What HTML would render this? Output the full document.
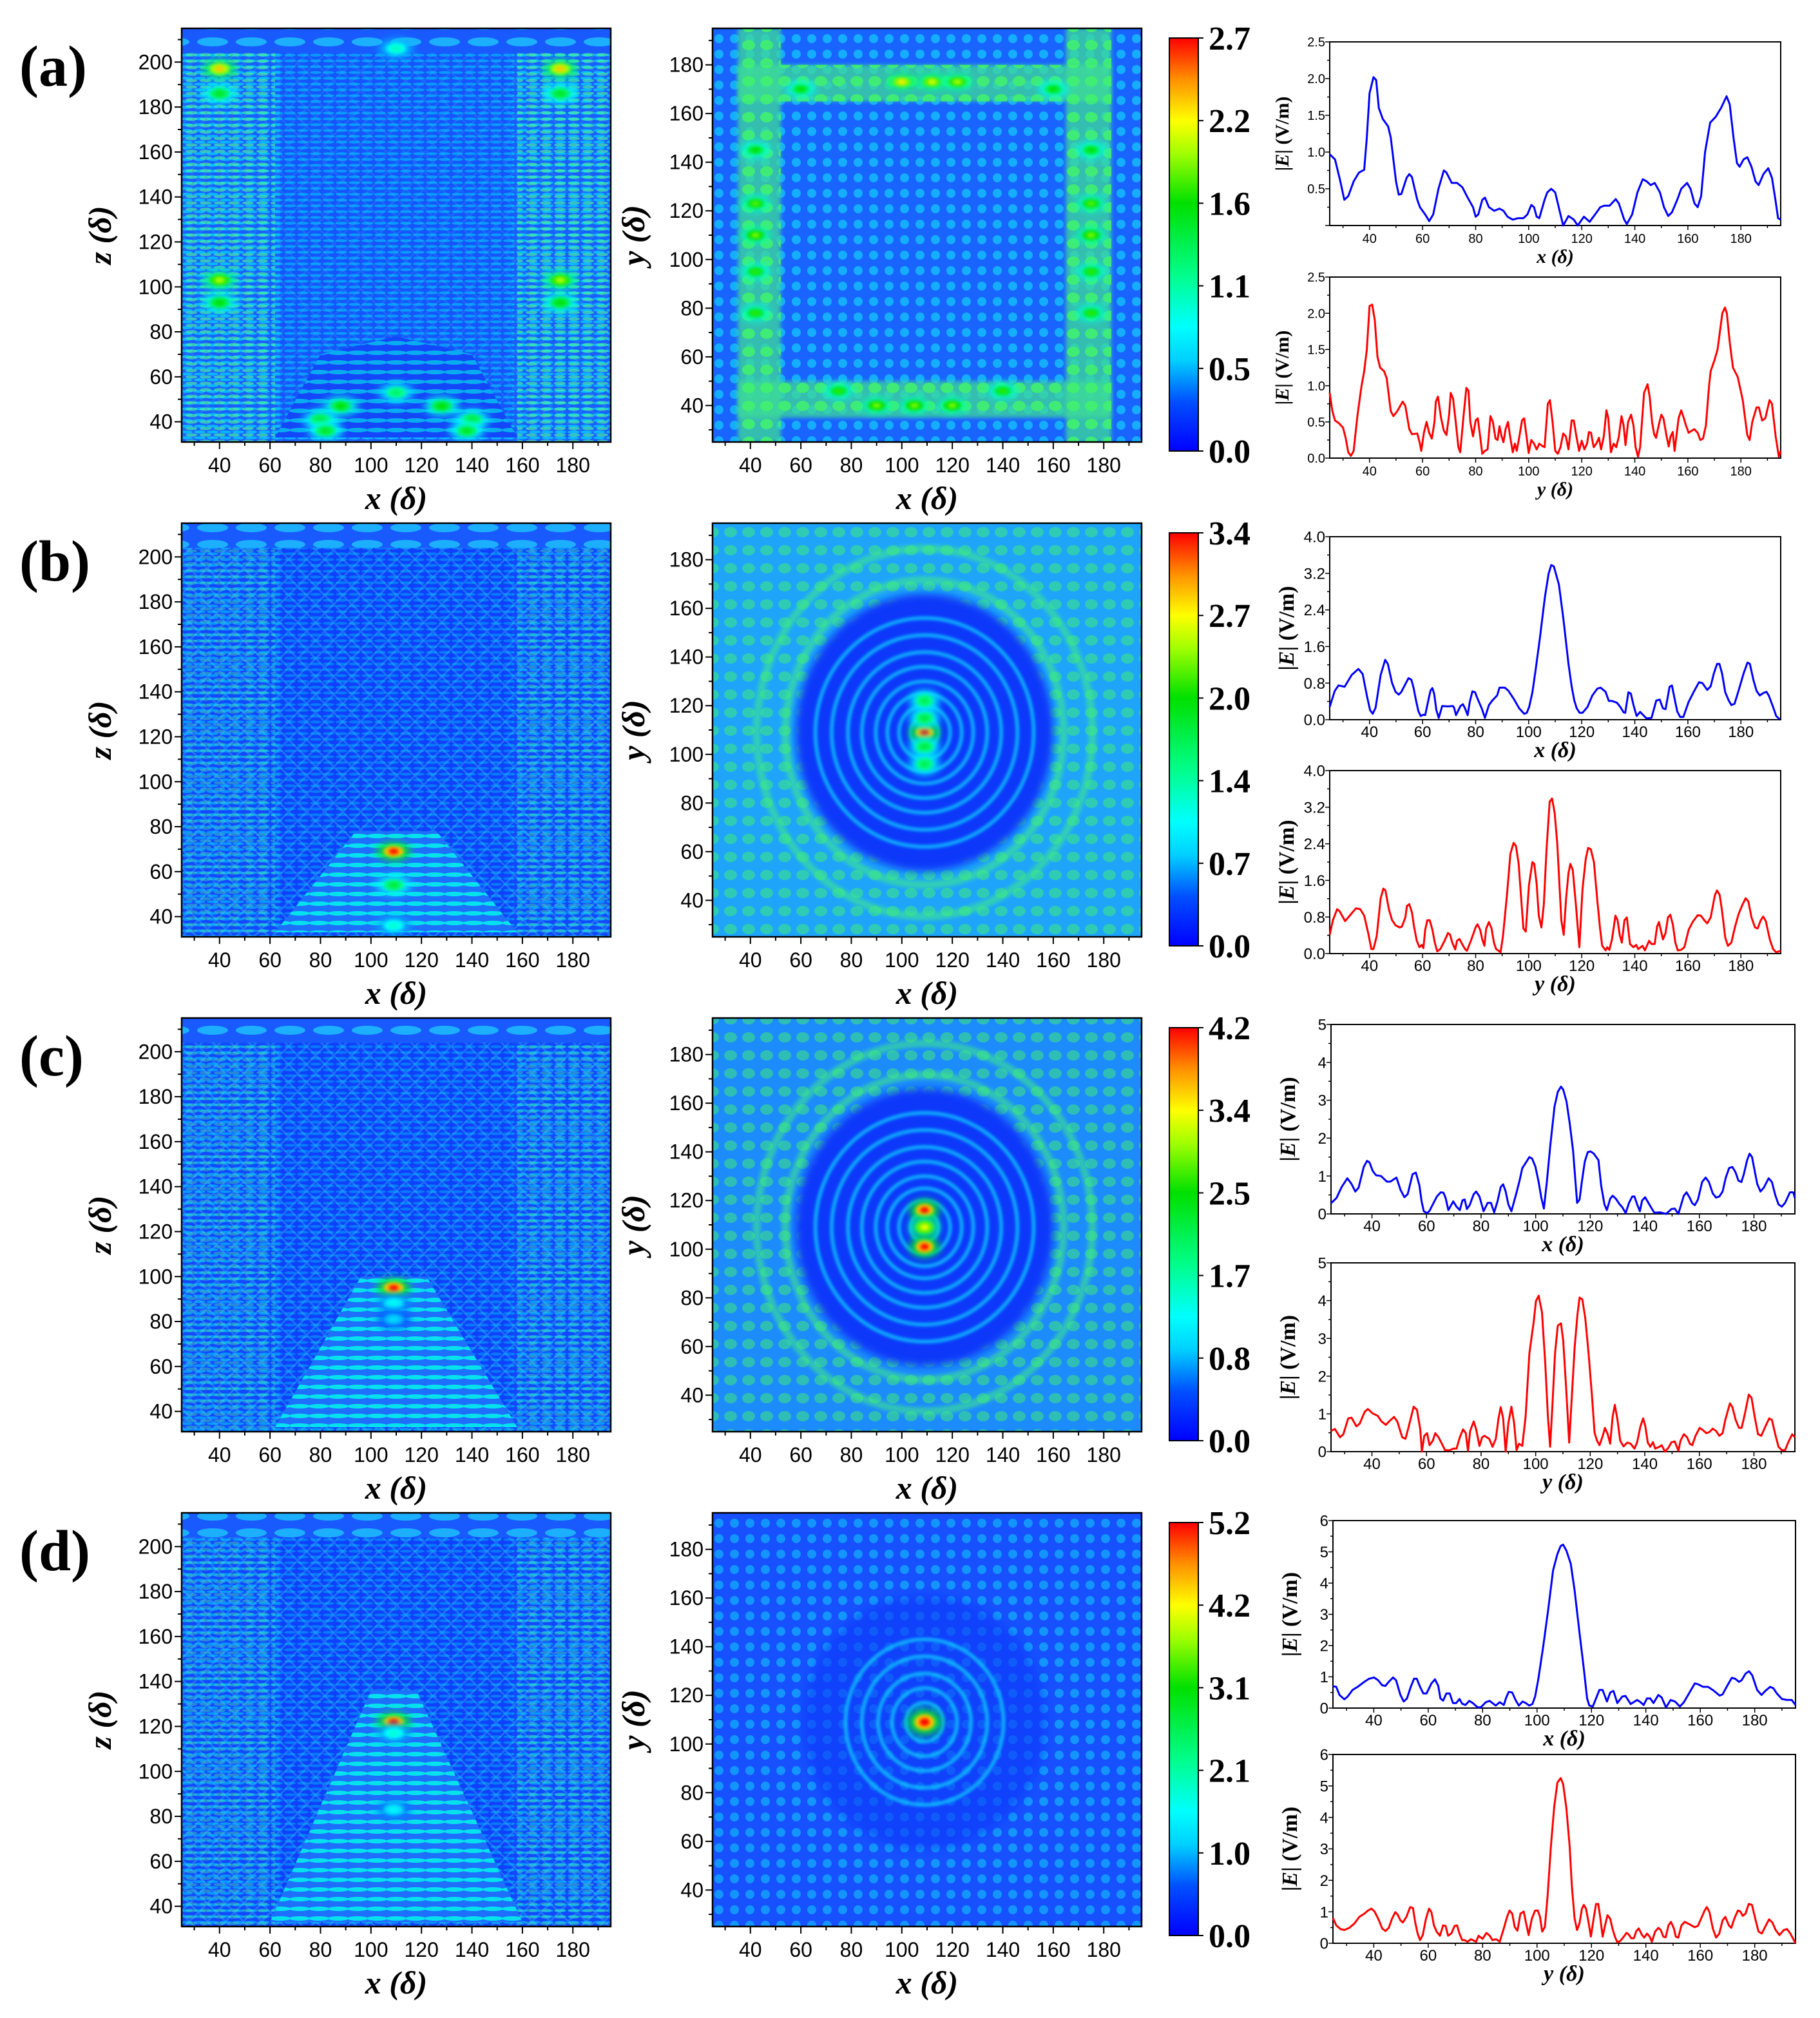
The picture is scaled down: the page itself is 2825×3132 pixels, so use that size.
<!DOCTYPE html>
<html><head><meta charset="utf-8">
<style>
html,body{margin:0;padding:0;background:#fff;}
svg{display:block;}
</style></head>
<body>
<svg id="fig" xmlns="http://www.w3.org/2000/svg" width="2825" height="3132" viewBox="0 0 2825 3132">
<defs>
<pattern id="stH" width="20" height="9" patternUnits="userSpaceOnUse"><ellipse cx="10" cy="4.5" rx="9" ry="2.3" fill="#00f0ff"/></pattern>
<pattern id="stG" width="22" height="10" patternUnits="userSpaceOnUse"><ellipse cx="11" cy="5" rx="9" ry="2.6" fill="#50ff90"/></pattern>
<pattern id="stC" width="30" height="15" patternUnits="userSpaceOnUse"><ellipse cx="15" cy="7.5" rx="16" ry="3.5" fill="#00ffe8"/></pattern>
<pattern id="stT" width="60" height="26" patternUnits="userSpaceOnUse"><ellipse cx="30" cy="13" rx="24" ry="7" fill="#20e8ff"/></pattern>
<pattern id="hatch" width="28" height="28" patternUnits="userSpaceOnUse"><path d="M0,0 L28,28 M28,0 L0,28" stroke="#30d8ff" stroke-width="3" fill="none"/></pattern>
<pattern id="dotC" width="24" height="24" patternUnits="userSpaceOnUse"><circle cx="12" cy="12" r="7" fill="#10e8ff"/></pattern>
<pattern id="dotG" width="28" height="28" patternUnits="userSpaceOnUse"><ellipse cx="14" cy="14" rx="10" ry="8" fill="#40f070"/></pattern>
<filter id="blur2" x="-20%" y="-20%" width="140%" height="140%"><feGaussianBlur stdDeviation="2"/></filter>
<filter id="blur3" x="-50%" y="-50%" width="200%" height="200%"><feGaussianBlur stdDeviation="3"/></filter>
<filter id="blur6" x="-50%" y="-50%" width="200%" height="200%"><feGaussianBlur stdDeviation="6"/></filter>
<linearGradient id="cbar" x1="0" y1="1" x2="0" y2="0">
<stop offset="0" stop-color="#0000ff"/><stop offset="0.12" stop-color="#0050ff"/><stop offset="0.22" stop-color="#00d0ff"/><stop offset="0.3" stop-color="#00ffff"/><stop offset="0.42" stop-color="#00ff90"/><stop offset="0.6" stop-color="#00e000"/><stop offset="0.72" stop-color="#a0ff00"/><stop offset="0.8" stop-color="#ffff00"/><stop offset="0.9" stop-color="#ff9000"/><stop offset="1" stop-color="#ff0000"/>
</linearGradient>
</defs>
</svg>
<script>
// ---------- line-chart data ([x, |E|]) ----------
const lineA_x = [[25,0.97],[27,0.9],[29,0.6],[30.5,0.35],[32,0.4],[34,0.6],[36,0.72],[38,0.76],[39,1.2],[40,1.8],[41.5,2.02],[42.5,1.98],[43.5,1.6],[45,1.45],[47,1.35],[48,1.2],[50,0.6],[51,0.42],[52,0.43],[54,0.65],[55,0.7],[56,0.66],[58,0.35],[59,0.25],[61,0.15],[62.5,0.06],[64,0.15],[66,0.5],[68,0.75],[69,0.72],[71,0.58],[73,0.58],[75,0.52],[77,0.38],[79,0.25],[80,0.12],[81,0.15],[82.5,0.35],[83.5,0.38],[85,0.25],[87,0.2],[89,0.23],[90.5,0.2],[92,0.12],[94,0.08],[96,0.1],[98,0.1],[99.5,0.15],[101,0.28],[102,0.25],[103,0.12],[104,0.1],[106,0.35],[107,0.45],[108.5,0.5],[110,0.45],[112,0.15],[113,0.0],[115,0.13],[117,0.08],[118.5,0.0],[120.8,0.12],[123,0.05],[125,0.15],[127,0.25],[128.5,0.27],[130.5,0.27],[132.8,0.36],[134,0.3],[136,0.08],[137,0.02],[139,0.15],[141,0.45],[143,0.63],[144.5,0.6],[146,0.55],[147.5,0.58],[149.5,0.45],[151,0.25],[152.6,0.13],[154,0.18],[156,0.35],[157.5,0.5],[159.7,0.58],[161,0.5],[162.5,0.3],[163.7,0.25],[165,0.4],[166.5,1.0],[168.4,1.4],[170.5,1.48],[172.5,1.6],[174.6,1.76],[175.8,1.65],[177.2,1.2],[178.5,0.85],[179.5,0.8],[181,0.9],[182.4,0.93],[184,0.8],[185.5,0.6],[186.7,0.55],[188.5,0.7],[190.3,0.78],[191.7,0.65],[193,0.35],[194,0.1],[195,0.08]];
const lineA_y = [[25,0.9],[26,0.65],[27,0.52],[28.5,0.48],[30,0.42],[31,0.28],[32,0.08],[33,0.03],[34,0.1],[35.5,0.6],[37,1.0],[38,1.2],[39,1.5],[40,2.1],[41,2.12],[42,1.9],[43,1.4],[44,1.25],[45.5,1.2],[46.5,1.1],[48,0.65],[49,0.58],[50.5,0.65],[52.5,0.78],[53.5,0.72],[55,0.4],[56,0.33],[58,0.34],[59,0.2],[59.5,0.1],[60.5,0.35],[61.5,0.5],[62.5,0.35],[63.5,0.27],[64.5,0.5],[65,0.78],[65.8,0.85],[67,0.55],[68,0.38],[69,0.32],[70,0.6],[70.6,0.9],[71.5,0.82],[72.5,0.5],[73.5,0.15],[74.2,0.08],[75.5,0.6],[76.5,0.97],[77.3,0.93],[78,0.5],[79,0.3],[80,0.52],[80.8,0.55],[81.7,0.3],[82.5,0.06],[83.5,0.1],[84.5,0.12],[85.6,0.58],[86.5,0.5],[87.5,0.27],[88.3,0.25],[89,0.44],[89.8,0.3],[90.5,0.22],[91.3,0.4],[92.2,0.5],[93,0.3],[94,0.08],[94.8,0.2],[95.5,0.1],[96.5,0.3],[97.5,0.52],[98.3,0.55],[99.2,0.3],[100,0.07],[101,0.25],[102,0.2],[103,0.12],[104,0.2],[105,0.17],[106,0.15],[107.2,0.75],[108,0.8],[109,0.5],[110,0.1],[111,0.06],[112,0.15],[113,0.34],[114,0.3],[115,0.12],[116.2,0.52],[117,0.52],[118,0.3],[119,0.1],[120,0.24],[121,0.12],[122,0.2],[122.7,0.36],[123.5,0.35],[124.5,0.15],[125.5,0.2],[126.5,0.28],[127.3,0.12],[128.3,0.3],[129.3,0.66],[130,0.55],[131,0.08],[132,0.2],[133,0.15],[134,0.3],[135,0.58],[135.8,0.45],[136.5,0.18],[137.5,0.5],[138.6,0.6],[139.5,0.45],[140.3,0.15],[141.2,0.02],[142,0.15],[143.5,0.9],[144.8,1.02],[145.6,0.85],[146.5,0.5],[147.3,0.33],[148,0.28],[149,0.45],[150,0.6],[150.8,0.55],[152,0.3],[152.8,0.16],[153.5,0.3],[154.3,0.36],[155,0.1],[156.5,0.55],[157.5,0.66],[158.5,0.55],[159.3,0.45],[160.3,0.35],[162.4,0.4],[163.7,0.35],[164.7,0.25],[165.7,0.27],[166.8,0.45],[168,1.0],[168.6,1.2],[170,1.35],[171.2,1.5],[173,2.0],[174,2.08],[174.7,2.0],[175.8,1.6],[177,1.25],[178.8,1.12],[180.7,0.8],[182.4,0.32],[183.3,0.25],[184.3,0.5],[185.9,0.7],[186.8,0.7],[188,0.52],[189.2,0.55],[190.8,0.8],[191.7,0.75],[193.1,0.3],[194.3,0.02],[195,0.1]];
const lineB_x = [[25,0.28],[26.9,0.63],[28.3,0.75],[30.6,0.72],[33.3,0.98],[35.8,1.11],[37.4,1.0],[39,0.53],[40.2,0.21],[41.2,0.13],[42.3,0.26],[44.2,0.98],[45.9,1.31],[46.9,1.22],[48.5,0.8],[49.8,0.61],[51,0.55],[51.9,0.6],[54.7,0.91],[55.8,0.87],[56.6,0.7],[57.4,0.46],[58.4,0.19],[59.3,0.08],[60.3,0.11],[61,0.1],[62.3,0.46],[63,0.64],[63.7,0.69],[64.4,0.56],[65.2,0.21],[66.1,0.04],[67.4,0.3],[69.6,0.29],[71.4,0.3],[71.9,0.26],[72.6,0.1],[74.3,0.3],[75.2,0.34],[76,0.25],[77,0.1],[77.8,0.39],[78.8,0.62],[79.8,0.6],[80.7,0.46],[82.3,0.25],[83.5,0.04],[85,0.32],[86.3,0.42],[88.1,0.53],[89,0.7],[91,0.7],[92.4,0.63],[94.3,0.46],[96.4,0.25],[98.3,0.13],[99.3,0.15],[100.2,0.28],[101.4,0.6],[102.6,1.08],[104.2,1.77],[106.1,2.67],[107.5,3.19],[108.5,3.38],[109.5,3.35],[111.4,2.95],[113.1,2.19],[115,1.22],[116.2,0.73],[117.2,0.42],[118.1,0.25],[119.2,0.15],[120.3,0.15],[122.2,0.28],[124,0.53],[125.9,0.68],[127.1,0.7],[129,0.61],[130.2,0.41],[131.4,0.41],[133.3,0.37],[134.5,0.28],[135.8,0.16],[136.4,0.15],[137.6,0.6],[138.5,0.57],[139.5,0.32],[140.7,0.08],[142,0.17],[143.2,0.1],[144.4,0.03],[146.3,0.04],[148.1,0.42],[149.4,0.44],[150.6,0.25],[151.6,0.23],[153.1,0.72],[154,0.75],[155,0.46],[156,0.18],[157.1,0.06],[158.3,0.06],[160.3,0.39],[162.4,0.63],[164.2,0.82],[165.5,0.8],[167.3,0.65],[168.6,0.73],[169.8,1.01],[171,1.22],[171.9,1.22],[172.9,1.01],[174.1,0.6],[175.4,0.42],[176.4,0.32],[177.6,0.35],[179.1,0.63],[181,1.01],[182.5,1.25],[183.4,1.22],[184.7,0.87],[185.9,0.63],[187.1,0.53],[188.4,0.58],[189.6,0.61],[190.5,0.53],[192.1,0.28],[193.3,0.08],[194.6,0.01]];
const lineB_y = [[25,0.41],[26.2,0.73],[27.8,0.97],[28.7,0.93],[30.8,0.71],[33,0.86],[34.9,0.99],[36.5,0.97],[38,0.83],[39.5,0.45],[40.7,0.1],[41.5,0.1],[42.7,0.38],[44.2,1.21],[45.2,1.42],[46,1.38],[47.3,0.97],[48.5,0.73],[49.8,0.62],[51.4,0.57],[52.2,0.59],[53.5,0.79],[54.1,1.04],[55,1.08],[56,0.9],[56.8,0.59],[57.8,0.28],[58.8,0.14],[59.7,0.19],[60.3,0.12],[61,0.52],[61.8,0.73],[62.7,0.73],[63.7,0.52],[64.6,0.24],[65.5,0.05],[66.7,0.1],[68.3,0.28],[69.6,0.45],[70.4,0.41],[71.2,0.24],[72.3,0.09],[73,0.28],[73.9,0.32],[74.9,0.21],[76,0.1],[76.7,0.06],[78.2,0.28],[80.1,0.59],[80.7,0.64],[81.7,0.52],[82.5,0.31],[83.3,0.17],[84,0.55],[85,0.69],[86,0.55],[86.9,0.24],[87.7,0.1],[89.4,0.03],[90.3,0.38],[91.8,1.28],[93.1,2.18],[94.3,2.42],[95.2,2.35],[96.2,1.97],[98,0.55],[98.9,0.48],[100.1,1.49],[101.4,2.0],[102.1,1.96],[103,1.52],[103.8,0.83],[104.8,0.57],[105.7,1.07],[106.7,2.25],[107.9,3.32],[108.8,3.39],[109.8,3.07],[110.8,2.38],[112.3,0.73],[113.2,0.41],[114.1,1.21],[115,1.76],[115.7,1.96],[116.6,1.83],[117.8,1.07],[119.1,0.14],[120.3,1.42],[121.5,2.07],[122.4,2.31],[123.4,2.28],[124.6,2.0],[125.9,1.14],[126.9,0.55],[127.7,0.17],[129,0.07],[129.6,0.14],[130.4,0.08],[131.4,0.31],[132.7,0.83],[133.5,0.73],[134.3,0.41],[135.1,0.24],[136.1,0.73],[137,0.79],[138.2,0.21],[139.5,0.14],[140.5,0.19],[141.3,0.1],[142.9,0.17],[143.8,0.07],[145.4,0.28],[146.3,0.21],[147.5,0.21],[148.4,0.59],[149.1,0.69],[150.6,0.31],[151.6,0.45],[152.5,0.79],[153.4,0.85],[154.4,0.62],[155.3,0.24],[156.2,0.07],[157.4,0.08],[158.7,0.14],[160.3,0.52],[161.8,0.69],[163.7,0.84],[164.9,0.83],[166.2,0.73],[167.3,0.66],[168.6,0.79],[170.2,1.28],[171,1.38],[172,1.28],[172.9,0.93],[174.1,0.35],[175.1,0.17],[176.4,0.24],[177.8,0.59],[179.1,0.86],[180.6,1.07],[181.8,1.21],[182.8,1.14],[184,0.79],[185.3,0.57],[186.3,0.55],[187.5,0.73],[188.4,0.81],[189.4,0.71],[190.9,0.31],[192.1,0.1],[193.3,0.03],[195,0.06]];
const lineC_x = [[25,0.28],[27,0.42],[28.9,0.71],[31,0.94],[32.5,0.79],[33.9,0.59],[35.1,0.69],[37,1.24],[38.2,1.4],[39.1,1.36],[40.3,1.13],[41.5,1.02],[43.3,1.0],[45.5,0.85],[46.7,0.85],[49,0.96],[50.5,0.63],[51.9,0.44],[53.1,0.52],[54.9,1.05],[56.1,1.09],[57.4,0.75],[58.2,0.33],[59,0.07],[60.2,0.02],[61.1,0.08],[63.8,0.46],[65.2,0.57],[66.2,0.56],[67,0.42],[68,0.1],[69.8,0.33],[71,0.19],[72.2,0.1],[73.2,0.36],[74,0.38],[74.8,0.13],[75.8,0.23],[77.3,0.52],[78.2,0.59],[79.4,0.46],[80.9,0.07],[82.4,0.29],[83.6,0.29],[84.8,0.04],[86,0.33],[87.2,0.71],[88.1,0.78],[89,0.59],[90,0.25],[91.1,0.07],[92.9,0.54],[94.1,0.88],[95.1,1.21],[96.3,1.34],[97.7,1.5],[98.7,1.46],[99.9,1.25],[101.1,0.84],[102.1,0.42],[103,0.14],[104.1,0.84],[105.3,1.76],[106.9,2.83],[108.1,3.22],[109.3,3.36],[110.1,3.28],[111.3,2.97],[112.5,2.38],[113.7,1.67],[115.2,0.29],[116.1,0.38],[117,0.88],[118,1.38],[119.1,1.63],[120.1,1.65],[121.3,1.59],[123,1.42],[124,0.75],[125.2,0.25],[126.1,0.1],[127.3,0.4],[128.2,0.48],[129.4,0.4],[130.6,0.27],[131.8,0.17],[133,0.02],[134.2,0.29],[135.4,0.46],[136.2,0.46],[137.2,0.25],[138.2,0.07],[139,0.35],[140.1,0.44],[141.1,0.32],[142.3,0.17],[143.5,0.03],[145.6,0.04],[147.8,0.0],[149.8,0.13],[151,0.14],[152.3,0.0],[154.3,0.48],[155.3,0.57],[156.5,0.42],[157.4,0.28],[158.3,0.23],[159.5,0.38],[161,0.84],[162.3,0.96],[163.5,0.84],[164.9,0.54],[166.1,0.43],[167.3,0.46],[168.5,0.59],[169.7,0.96],[170.9,1.21],[172.1,1.24],[173.3,1.09],[174.3,0.88],[175.4,0.84],[176.3,1.05],[177.5,1.42],[178.4,1.59],[179.3,1.5],[180.3,1.13],[181.2,0.79],[182.4,0.59],[183.6,0.69],[185.4,0.94],[186.6,0.84],[187.8,0.5],[189,0.25],[190.2,0.19],[191.4,0.29],[193.2,0.57],[194.4,0.57],[195,0.42]];
const lineC_y = [[25,0.55],[26.4,0.6],[28.3,0.38],[29.5,0.46],[31.3,0.88],[32.5,0.9],[34.3,0.67],[35.5,0.74],[37.3,1.05],[38.5,1.13],[40.3,1.01],[42.1,0.95],[43.5,0.8],[45.1,0.71],[46.3,0.8],[48.1,0.92],[49.3,0.8],[51.1,0.38],[52.3,0.34],[53.5,0.67],[55.3,1.19],[56.5,1.11],[57.7,0.59],[58.3,0.0],[59.2,0.42],[60.2,0.49],[61.1,0.17],[62.3,0.29],[63.2,0.49],[64.4,0.38],[65.6,0.21],[66.8,0.04],[68.6,0.04],[69.8,0.08],[71,0.08],[72.2,0.38],[73.4,0.59],[74.4,0.49],[75.2,0.02],[76,0.55],[77.3,0.8],[78.2,0.59],[79.4,0.15],[80.4,0.38],[81.2,0.42],[83,0.34],[84.2,0.13],[85.4,0.34],[86.4,0.88],[87.2,1.18],[88.1,0.88],[89,0.0],[90,0.76],[91.1,1.19],[92.1,0.76],[93,0.04],[93.9,0.21],[95.1,0.15],[96.3,0.92],[97.7,2.6],[99.3,3.45],[100.1,3.99],[101.1,4.13],[102.3,3.7],[103.5,2.35],[104.5,0.92],[105.3,0.13],[106.1,1.18],[107.1,2.6],[108.1,3.34],[109.3,3.4],[110.1,2.94],[111.1,1.76],[112.3,0.24],[113.1,1.26],[114.3,2.77],[115.3,3.61],[116.1,4.08],[117.1,4.03],[118.2,3.53],[119.4,2.6],[120.6,1.51],[121.6,0.5],[122.5,0.29],[123.4,0.17],[124.6,0.42],[125.4,0.63],[126.4,0.46],[127.3,0.21],[128.2,0.92],[129,1.24],[130,0.84],[131,0.29],[132.2,0.14],[133.6,0.24],[134.8,0.21],[136.2,0.08],[137.2,0.25],[138.4,0.67],[139.4,0.88],[140.2,0.67],[141.1,0.24],[142,0.13],[143,0.25],[143.8,0.08],[145.4,0.13],[146.2,0.17],[147.4,0.0],[148.6,0.1],[149.8,0.25],[151,0.27],[152.3,0.02],[153.1,0.29],[154.3,0.46],[155.5,0.38],[156.5,0.21],[157.4,0.17],[158.6,0.42],[160.1,0.63],[161.3,0.57],[162.5,0.49],[163.7,0.52],[164.9,0.61],[166.1,0.55],[167.3,0.42],[168.5,0.49],[169.5,0.84],[170.3,1.05],[171.2,1.28],[172.1,1.18],[173.3,0.84],[174.5,0.63],[175.5,0.63],[176.7,1.01],[178.1,1.51],[179.1,1.43],[180.3,0.92],[181.5,0.46],[182.7,0.42],[184.2,0.67],[185.6,0.88],[186.6,0.84],[187.8,0.46],[189,0.13],[190.2,0.04],[191.4,0.04],[192.6,0.25],[194,0.46],[195,0.38]];
const lineD_x = [[25,0.7],[26.2,0.68],[27.4,0.42],[29.2,0.28],[30.4,0.37],[32.2,0.58],[34.1,0.68],[36.5,0.84],[38.3,0.94],[40.1,0.98],[41.6,0.89],[43.1,0.73],[44.3,0.71],[45.5,0.84],[47.1,0.98],[48.2,0.89],[49.8,0.42],[51,0.21],[52.2,0.31],[53.6,0.68],[54.8,0.94],[55.8,0.94],[57,0.68],[58.2,0.47],[59.4,0.47],[61.2,0.79],[62.5,0.92],[63.7,0.71],[64.5,0.31],[65.5,0.24],[66.7,0.47],[67.9,0.47],[69.1,0.16],[70.3,0.16],[71.5,0.29],[72.5,0.14],[73.7,0.1],[75.1,0.23],[76.4,0.16],[78.2,0.02],[79.4,0.03],[81.2,0.19],[82.6,0.23],[83.6,0.16],[84.8,0.08],[86.3,0.19],[87.8,0.1],[88.7,0.34],[89.6,0.52],[90.9,0.5],[92.1,0.26],[93.3,0.08],[94.7,0.21],[95.9,0.16],[97.1,0.08],[98.3,0.13],[99.3,0.37],[100.5,0.94],[102.3,1.99],[104.1,3.15],[105.9,4.41],[107.5,4.93],[108.7,5.19],[109.6,5.23],[110.8,5.04],[112.4,4.62],[113.8,3.78],[115.6,2.41],[117.2,1.26],[118.4,0.31],[119.2,0.08],[120.5,0.05],[121.7,0.31],[122.9,0.58],[124.1,0.58],[125.7,0.21],[126.9,0.5],[128.1,0.55],[129.5,0.16],[131.3,0.37],[132.5,0.39],[134.4,0.13],[136.8,0.26],[138,0.19],[139.2,0.1],[140.4,0.31],[141.6,0.31],[142.8,0.16],[144.6,0.42],[145.8,0.34],[147.4,0.02],[149.1,0.26],[150.7,0.21],[152.5,0.05],[154,0.19],[156.2,0.52],[158,0.79],[159.2,0.76],[161,0.68],[162.8,0.68],[164.6,0.58],[167.1,0.4],[168.2,0.44],[170,0.73],[171.6,0.97],[172.8,0.94],[174.2,0.84],[175.2,0.89],[176.6,1.1],[177.9,1.18],[179.1,1.05],[180.9,0.58],[182.5,0.42],[183.9,0.55],[185.7,0.68],[186.9,0.63],[188.1,0.47],[190,0.29],[191.8,0.26],[193.6,0.26],[195,0.1]];
const lineD_y = [[25,0.8],[26.2,0.57],[27.8,0.45],[29.2,0.42],[31,0.49],[32.9,0.63],[34.7,0.84],[36.5,0.94],[37.9,1.04],[39.1,1.1],[40.3,1.01],[41.9,0.73],[43.1,0.47],[44.3,0.39],[45.5,0.49],[46.7,0.78],[47.9,0.99],[48.8,0.91],[49.8,0.73],[50.7,0.66],[52,0.84],[53.4,1.15],[54.4,1.12],[55.2,0.68],[56.1,0.31],[57,0.1],[58,0.26],[59.2,0.78],[60.3,1.1],[61.2,0.99],[62.1,0.57],[63.1,0.37],[64.3,0.24],[65.5,0.57],[66.4,0.55],[67.3,0.24],[68.5,0.31],[69.7,0.55],[70.6,0.57],[71.5,0.31],[72.5,0.1],[73.3,0.1],[74.5,0.05],[75.7,0.13],[77.6,0.05],[78.5,0.24],[80,0.14],[81.4,0.33],[82.6,0.24],[83.6,0.1],[85,0.13],[86.3,0.05],[87.8,0.47],[89,0.84],[89.9,1.04],[90.9,0.94],[91.8,0.52],[92.8,0.4],[93.9,0.94],[95.1,1.01],[96,0.63],[96.9,0.26],[98.1,0.78],[99.3,1.04],[100.3,1.04],[101.1,0.84],[101.9,0.37],[102.9,0.52],[103.9,1.51],[105.1,3.08],[106.3,4.33],[107.5,5.11],[108.7,5.25],[109.6,5.06],[110.8,4.28],[112,3.08],[112.8,1.83],[113.8,0.8],[114.7,0.42],[115.6,0.63],[116.5,1.1],[117.2,1.22],[118,1.1],[118.9,0.68],[119.8,0.21],[120.8,0.78],[121.7,1.25],[122.5,1.25],[123.2,0.84],[124.1,0.21],[125,0.57],[125.9,0.89],[126.9,0.78],[127.7,0.47],[128.6,0.21],[129.5,0.03],[130.7,0.08],[131.9,0.21],[132.9,0.33],[133.7,0.28],[134.6,0.16],[135.6,0.16],[136.5,0.39],[137.4,0.47],[138.6,0.26],[139.4,0.18],[140.4,0.31],[141.4,0.21],[142.2,0.05],[143.4,0.37],[144.6,0.49],[145.5,0.42],[146.4,0.21],[147.3,0.19],[148.3,0.57],[149.2,0.68],[150.3,0.47],[151,0.21],[151.9,0.18],[153.1,0.57],[154.3,0.68],[156.1,0.6],[157.9,0.51],[159.1,0.55],[160.3,0.78],[161.6,1.04],[162.4,1.15],[163.4,0.99],[164.6,0.47],[165.8,0.18],[167,0.31],[168.2,0.73],[169.2,0.84],[170.5,0.57],[171.4,0.49],[172.5,0.78],[173.8,1.04],[174.7,1.01],[175.6,0.87],[176.6,0.94],[177.8,1.25],[179,1.22],[180.2,0.78],[181.4,0.37],[182.6,0.31],[184.1,0.57],[185.3,0.76],[186.5,0.66],[187.7,0.42],[189.1,0.26],[190.7,0.42],[191.9,0.45],[193.1,0.31],[195,0.0]];

// ---------- axis / colour-scale data ----------
const panelLabels = ['(a)','(b)','(c)','(d)'];
const cbarTicksA = ['0.0','0.5','1.1','1.6','2.2','2.7'];
const cbarTicksB = ['0.0','0.7','1.4','2.0','2.7','3.4'];
const cbarTicksC = ['0.0','0.8','1.7','2.5','3.4','4.2'];
const cbarTicksD = ['0.0','1.0','2.1','3.1','4.2','5.2'];
const cbarMax = [2.7, 3.4, 4.2, 5.2];
const lineYTicksA_top = [0.5,1.0,1.5,2.0,2.5];
const lineYTicksA_bot = [0.0,0.5,1.0,1.5,2.0,2.5];
const lineYTicksB = [0.0,0.8,1.6,2.4,3.2,4.0];
const lineYTicksC = [0,1,2,3,4,5];
const lineYTicksD = [0,1,2,3,4,5,6];
const lineYMax = [2.5, 4.0, 5.0, 6.0];
const xTicks = [40,60,80,100,120,140,160,180];
const zTicks = [40,60,80,100,120,140,160,180,200];
const yTicks = [40,60,80,100,120,140,160,180];

// ---------- heatmap feature data: [x, z|y, |E|] ----------
const hotLeftA = [[40,197,2.3],[175,197,2.3],[40,103,2.0],[175,103,2.0],[40,186,1.5],[175,186,1.5],[40,93,1.6],[175,93,1.6],[88,47,1.6],[128,47,1.6],[110,53,1.3],[80,41,1.5],[140,41,1.5],[82,36,1.5],[138,36,1.5],[110,206,1.0]];
const hotLeftB = [[109,69,3.4],[109,54,1.8],[109,36,1.2]];
const hotLeftC = [[109,95,4.2],[109,88,1.3],[109,81,1.0]];
const hotLeftD = [[109,122,5.2],[109,117,1.8],[109,83,1.5]];
const coneB = [[62,33],[158,33],[126,78],[94,78]];
const coneC = [[62,33],[158,33],[122,100],[96,100]];
const coneD = [[60,33],[160,33],[118,136],[100,136]];
const coneA = [[62,33],[158,33],[140,70],[110,78],[80,70]];
const hotMidA = [[100,173,2.2],[112,173,2.1],[122,173,2.0],[60,170,1.6],[160,170,1.6],[90,40,1.9],[105,40,1.9],[120,40,1.9],[75,46,1.7],[140,46,1.7],[42,110,1.9],[175,110,1.9],[42,123,1.8],[175,123,1.8],[42,95,1.7],[175,95,1.7],[42,78,1.7],[175,78,1.7],[42,145,1.6],[175,145,1.6]];
const hotMidB = [[109,109,3.4],[109,103,1.8],[109,115,1.8],[109,96,1.7],[109,122,1.7]];
const hotMidC = [[109,116,4.2],[109,109,3.3],[109,101,4.2]];
const hotMidD = [[109,109,5.2]];
const ringsB = [6,11,16,21,27,33,40,47];
const ringsC = [6,11,16,21,27,33,40,47];
const ringsD = [8,14,20,27,34];

// ---------- helpers ----------
const NS = 'http://www.w3.org/2000/svg';
const svg = document.getElementById('fig');
function mk(tag, attrs, name, parent) {
  const e = document.createElementNS(NS, tag);
  for (const k in attrs) e.setAttribute(k, attrs[k]);
  
  
  (parent || svg).appendChild(e);
  return e;
}
function txt(x, y, s, style, name, parent, anchor, rot) {
  const a = {x: x, y: y, 'text-anchor': anchor || 'middle', style: style};
  if (rot) a.transform = 'rotate(' + rot + ' ' + x + ' ' + y + ')';
  const t = mk('text', a, name, parent);
  t.textContent = s;
  return t;
}
const jetStops = [[0,[0,0,255]],[0.12,[0,80,255]],[0.22,[0,208,255]],[0.3,[0,255,255]],[0.42,[0,255,144]],[0.6,[0,224,0]],[0.72,[160,255,0]],[0.8,[255,255,0]],[0.9,[255,144,0]],[1,[255,0,0]]];
function jet(t) {
  t = Math.max(0, Math.min(1, t));
  for (let i = 1; i < jetStops.length; i++) {
    if (t <= jetStops[i][0]) {
      const a = jetStops[i-1], b = jetStops[i], f = (t - a[0]) / (b[0] - a[0]);
      const c = a[1].map((v, k) => Math.round(v + (b[1][k] - v) * f));
      return 'rgb(' + c.join(',') + ')';
    }
  }
  return 'rgb(255,0,0)';
}
const TICK = 'font-family:"Liberation Sans",Arial,sans-serif;fill:#000;';
const TITLE = 'font-family:"Liberation Serif",serif;font-weight:bold;font-style:italic;fill:#000;';

const rowDy = [0, 768, 1536, 2304];
const LEFT = {x0: 282, x1: 948, y0: 44, y1: 686, zmin: 31, zmax: 215};
const MID = {x0: 1106, x1: 1772, y0: 44, y1: 686};
const CB = {x0: 1815, x1: 1860, y0: 59, y1: 700};
const LINEBOX = [
  [[2064,2764,65,350],[2064,2764,430,711]],
  [[2064,2764,833,1117],[2064,2764,1196,1480]],
  [[2066,2786,1590,1884],[2066,2786,1960,2253]],
  [[2069,2787,2360,2651],[2069,2787,2723,3016]]
];

function heatAxes(g, sx, sy, x0, x1, y0, y1, yt, yminor, ylab, ylabX, prefix) {
  mk('rect', {x: x0, y: y0, width: x1 - x0, height: y1 - y0, fill: 'none', stroke: '#000', 'stroke-width': 2.5}, prefix + '-frame', g);
  for (let v = 30; v <= 190; v += 10) {
    const maj = v % 20 === 0;
    mk('line', {x1: sx(v), x2: sx(v), y1: y1, y2: y1 + (maj ? 11 : 6), stroke: '#000', 'stroke-width': 2}, prefix + '-x-tick', g);
  }
  xTicks.forEach(v => txt(sx(v), y1 + 47, String(v), TICK + 'font-size:32px;', prefix + '-x-tick-label', g));
  yminor.forEach(v => {
    const maj = yt.indexOf(v) >= 0;
    mk('line', {x1: x0, x2: x0 - (maj ? 11 : 6), y1: sy(v), y2: sy(v), stroke: '#000', 'stroke-width': 2}, prefix + '-y-tick', g);
  });
  yt.forEach(v => txt(x0 - 14, sy(v) + 11, String(v), TICK + 'font-size:32px;', prefix + '-y-tick-label', g, 'end'));
  const xt = txt((x0 + x1) / 2, y1 + 104, '', TITLE + 'font-size:50px;', prefix + '-x-axis-title', g);
  xt.textContent = 'x (δ)';
  const yt2 = txt(ylabX, (y0 + y1) / 2, '', TITLE + 'font-size:50px;', prefix + '-y-axis-title', g, 'middle', -90);
  yt2.textContent = ylab + ' (δ)';
}

function drawHot(g, sx, sy, list, vmax, rxU, ryU, name) {
  const kx = (sx(26) - sx(25)), ky = Math.abs(sy(26) - sy(25));
  list.forEach(h => {
    const cx = sx(h[0]), cy = sy(h[1]), t = h[2] / vmax;
    mk('ellipse', {cx: cx, cy: cy, rx: rxU * kx * 1.7, ry: ryU * ky * 1.7, fill: jet(t * 0.55), filter: 'url(#blur6)', opacity: 0.9}, name + '-glow', g);
    mk('ellipse', {cx: cx, cy: cy, rx: rxU * kx, ry: ryU * ky, fill: jet(t * 0.85), filter: 'url(#blur3)'}, name + '-body', g);
    mk('ellipse', {cx: cx, cy: cy, rx: rxU * kx * 0.5, ry: ryU * ky * 0.5, fill: jet(t), filter: 'url(#blur3)'}, name + '-core', g);
  });
}

function drawLeft(r, hots, cone, vmax) {
  const dy = rowDy[r];
  const g = mk('g', {}, 'xz-heatmap-' + 'abcd'[r]);
  const x0 = LEFT.x0, x1 = LEFT.x1, y0 = LEFT.y0 + dy, y1 = LEFT.y1 + dy;
  const sx = v => x0 + (v - 25) / 170 * (x1 - x0);
  const sy = v => y1 - (v - LEFT.zmin) / (LEFT.zmax - LEFT.zmin) * (y1 - y0);
  const cid = 'clipL' + r;
  const cp = mk('clipPath', {id: cid}, 'clip', g);
  mk('rect', {x: x0, y: y0, width: x1 - x0, height: y1 - y0}, 'clip-rect', cp);
  const c = mk('g', {'clip-path': 'url(#' + cid + ')'}, 'xz-field', g);
  const isA = r === 0;
  mk('rect', {x: x0, y: y0, width: x1 - x0, height: y1 - y0, fill: isA ? 'rgb(25,95,255)' : 'rgb(18,72,255)'}, 'field-base', c);
  mk('rect', {x: x0, y: y0, width: x1 - x0, height: y1 - y0, fill: 'url(#stH)', opacity: isA ? 0.6 : 0.45}, 'field-stripes', c);
  mk('rect', {x: sx(25), y: y0, width: sx(62) - sx(25), height: y1 - y0, fill: 'url(#stG)', opacity: isA ? 0.6 : 0.35}, 'side-band-left', c);
  mk('rect', {x: sx(158), y: y0, width: sx(195) - sx(158), height: y1 - y0, fill: 'url(#stG)', opacity: isA ? 0.6 : 0.35}, 'side-band-right', c);
  mk('rect', {x: sx(64), y: sy(205), width: sx(156) - sx(64), height: sy(33) - sy(205), fill: '#0828f0', opacity: isA ? 0.2 : 0.25}, 'center-dark-region', c);
  mk('rect', {x: sx(25), y: sy(205), width: sx(195) - sx(25), height: sy(31) - sy(205), fill: 'url(#hatch)', opacity: isA ? 0.15 : 0.3}, 'diagonal-lattice', c);
  const pts = cone.map(p => sx(p[0]) + ',' + sy(p[1])).join(' ');
  mk('polygon', {points: pts, fill: isA ? 'rgb(20,70,250)' : 'rgb(30,110,255)'}, 'focus-cone-base', c);
  mk('polygon', {points: pts, fill: 'url(#stC)', opacity: isA ? 0.55 : 0.8}, 'focus-cone-stripes', c);
  mk('rect', {x: x0, y: y0, width: x1 - x0, height: sy(204) - y0, fill: 'rgb(25,90,255)'}, 'top-region', c);
  mk('rect', {x: x0, y: y0, width: x1 - x0, height: sy(204) - y0, fill: 'url(#stT)', opacity: 0.6}, 'top-region-blobs', c);
  drawHot(c, sx, sy, hots, vmax, 4, 2.5, 'xz-hotspot');
  const minor = []; for (let v = 40; v <= 210; v += 10) minor.push(v);
  heatAxes(g, sx, sy, x0, x1, y0, y1, zTicks, minor, 'z', 172, 'xz');
}

function drawMid(r, hots, rings, vmax) {
  const dy = rowDy[r];
  const g = mk('g', {}, 'xy-heatmap-' + 'abcd'[r]);
  const x0 = MID.x0, x1 = MID.x1, y0 = MID.y0 + dy, y1 = MID.y1 + dy;
  const sx = v => x0 + (v - 25) / 170 * (x1 - x0);
  const sy = v => y1 - (v - 25) / 170 * (y1 - y0);
  const cid = 'clipM' + r;
  const cp = mk('clipPath', {id: cid}, 'clip', g);
  mk('rect', {x: x0, y: y0, width: x1 - x0, height: y1 - y0}, 'clip-rect', cp);
  const c = mk('g', {'clip-path': 'url(#' + cid + ')'}, 'xy-field', g);
  const kx = sx(26) - sx(25), ky = sy(25) - sy(26);
  if (r === 0) {
    mk('rect', {x: x0, y: y0, width: x1 - x0, height: y1 - y0, fill: 'rgb(25,100,255)'}, 'field-base', c);
    mk('rect', {x: x0, y: y0, width: x1 - x0, height: y1 - y0, fill: 'url(#dotC)', opacity: 0.55}, 'field-dots', c);
    const bands = [[35,25,52,195],[165,25,183,195],[35,165,183,180],[35,35,183,50]];
    bands.forEach(b => {
      mk('rect', {x: sx(b[0]), y: sy(b[3]), width: sx(b[2]) - sx(b[0]), height: sy(b[1]) - sy(b[3]), fill: 'rgb(60,220,150)', opacity: 0.75, filter: 'url(#blur3)'}, 'frame-band', c);
      mk('rect', {x: sx(b[0]), y: sy(b[3]), width: sx(b[2]) - sx(b[0]), height: sy(b[1]) - sy(b[3]), fill: 'url(#dotG)', opacity: 0.9}, 'frame-band-spots', c);
    });
    drawHot(c, sx, sy, hots, vmax, 3.5, 2, 'xy-hotspot');
  } else {
    const baseC = r === 1 ? 'rgb(30,165,250)' : (r === 2 ? 'rgb(28,140,252)' : 'rgb(22,80,255)');
    mk('rect', {x: x0, y: y0, width: x1 - x0, height: y1 - y0, fill: baseC}, 'field-base', c);
    mk('rect', {x: x0, y: y0, width: x1 - x0, height: y1 - y0, fill: r === 3 ? 'url(#dotC)' : 'url(#dotG)', opacity: r === 3 ? 0.45 : 0.5}, 'field-dots', c);
    const R = rings[rings.length - 1] + 4;
    mk('ellipse', {cx: sx(109), cy: sy(109), rx: (r === 3 ? R + 10 : R) * kx, ry: (r === 3 ? R + 14 : R + 6) * ky, fill: 'rgb(12,55,250)', opacity: r === 3 ? 0.6 : 1, filter: 'url(#blur6)'}, 'inner-dark-zone', c);
    if (r !== 3) {
      [58, 70].forEach(rr => mk('ellipse', {cx: sx(109), cy: sy(109), rx: rr * kx * 0.95, ry: rr * ky * 1.08, fill: 'none', stroke: '#40f080', 'stroke-width': 12, opacity: 0.55, filter: 'url(#blur3)'}, 'outer-ring', c));
    }
    rings.forEach(rr => mk('ellipse', {cx: sx(109), cy: sy(109), rx: rr * kx * 0.92, ry: rr * ky, fill: 'none', stroke: '#10d0ff', 'stroke-width': 6, opacity: 0.75, filter: 'url(#blur2)'}, 'inner-ring', c));
    drawHot(c, sx, sy, hots, vmax, r === 3 ? 4 : 3.5, r === 3 ? 3.2 : 2.6, 'xy-hotspot');
  }
  const minor = []; for (let v = 30; v <= 190; v += 10) minor.push(v);
  heatAxes(g, sx, sy, x0, x1, y0, y1, yTicks, minor, 'y', 1000, 'xy');
}

function drawCbar(r, labels) {
  const dy = rowDy[r];
  const g = mk('g', {}, 'colorbar-' + 'abcd'[r]);
  mk('rect', {x: CB.x0, y: CB.y0 + dy, width: CB.x1 - CB.x0, height: CB.y1 - CB.y0, fill: 'url(#cbar)', stroke: '#000', 'stroke-width': 2}, 'colorbar-gradient', g);
  labels.forEach((s, i) => {
    const y = CB.y1 + dy - i / (labels.length - 1) * (CB.y1 - CB.y0);
    mk('line', {x1: CB.x1, x2: CB.x1 + 8, y1: y, y2: y, stroke: '#000', 'stroke-width': 2}, 'colorbar-tick', g);
    txt(CB.x1 + 16, y + 18, s, 'font-family:"Liberation Serif",serif;font-weight:bold;font-size:52px;fill:#000;', 'colorbar-tick-label', g, 'start');
  });
}

function drawLine(r, k, data, yt, ymax, color, axisVar) {
  const b = LINEBOX[r][k];
  const x0 = b[0], x1 = b[1], y0 = b[2], y1 = b[3];
  const g = mk('g', {}, 'profile-' + axisVar + '-' + 'abcd'[r]);
  const sx = v => x0 + (v - 25) / 170 * (x1 - x0);
  const sy = v => y1 - v / ymax * (y1 - y0);
  const fs = r === 0 ? 20 : 24;
  mk('rect', {x: x0, y: y0, width: x1 - x0, height: y1 - y0, fill: '#fff', stroke: '#000', 'stroke-width': 2}, 'plot-frame', g);
  for (let v = 30; v <= 190; v += 10) {
    const maj = v % 20 === 0;
    mk('line', {x1: sx(v), x2: sx(v), y1: y1, y2: y1 + (maj ? 7 : 4), stroke: '#000', 'stroke-width': 1.5}, 'x-tick', g);
  }
  xTicks.forEach(v => txt(sx(v), y1 + 27, String(v), TICK + 'font-size:' + fs + 'px;', 'x-tick-label', g));
  const step = ymax === 2.5 ? 0.5 : (ymax === 4 ? 0.8 : 1);
  for (let v = 0; v <= ymax + 1e-6; v += step / 2) {
    mk('line', {x1: x0, x2: x0 - ((Math.round(v / step * 2) % 2 === 0) ? 7 : 4), y1: sy(v), y2: sy(v), stroke: '#000', 'stroke-width': 1.5}, 'y-tick', g);
  }
  yt.forEach(v => txt(x0 - 7, sy(v) + fs * 0.36, (ymax === 2.5 || ymax === 4) ? v.toFixed(1) : String(v), TICK + 'font-size:' + fs + 'px;', 'y-tick-label', g, 'end'));
  const pts = data.map(p => sx(p[0]).toFixed(1) + ',' + sy(p[1]).toFixed(1)).join(' ');
  mk('polyline', {points: pts, fill: 'none', stroke: color, 'stroke-width': 3, 'stroke-linejoin': 'round'}, 'profile-line', g);
  const xt = txt((x0 + x1) / 2, y1 + 58, '', TITLE + 'font-size:' + (fs + 10) + 'px;', 'x-axis-title', g);
  xt.textContent = axisVar + ' (δ)';
  const yx = x0 - (r === 0 ? 64 : 56);
  const ytl = txt(yx, (y0 + y1) / 2, '', 'font-family:"Liberation Serif",serif;font-weight:bold;font-size:' + (fs + 10) + 'px;fill:#000;', 'y-axis-title', g, 'middle', -90);
  ytl.innerHTML = '|<tspan font-style="italic">E</tspan>| (V/m)';
}

// ---------- build ----------
panelLabels.forEach((s, i) => txt(30, 133 + rowDy[i], s, 'font-family:"Liberation Serif",serif;font-weight:bold;font-size:90px;fill:#000;', 'panel-label', svg, 'start'));
drawLeft(0, hotLeftA, coneA, cbarMax[0]);
drawLeft(1, hotLeftB, coneB, cbarMax[1]);
drawLeft(2, hotLeftC, coneC, cbarMax[2]);
drawLeft(3, hotLeftD, coneD, cbarMax[3]);
drawMid(0, hotMidA, [], cbarMax[0]);
drawMid(1, hotMidB, ringsB, cbarMax[1]);
drawMid(2, hotMidC, ringsC, cbarMax[2]);
drawMid(3, hotMidD, ringsD, cbarMax[3]);
drawCbar(0, cbarTicksA);
drawCbar(1, cbarTicksB);
drawCbar(2, cbarTicksC);
drawCbar(3, cbarTicksD);
drawLine(0, 0, lineA_x, lineYTicksA_top, lineYMax[0], '#0000ff', 'x');
drawLine(0, 1, lineA_y, lineYTicksA_bot, lineYMax[0], '#ff0000', 'y');
drawLine(1, 0, lineB_x, lineYTicksB, lineYMax[1], '#0000ff', 'x');
drawLine(1, 1, lineB_y, lineYTicksB, lineYMax[1], '#ff0000', 'y');
drawLine(2, 0, lineC_x, lineYTicksC, lineYMax[2], '#0000ff', 'x');
drawLine(2, 1, lineC_y, lineYTicksC, lineYMax[2], '#ff0000', 'y');
drawLine(3, 0, lineD_x, lineYTicksD, lineYMax[3], '#0000ff', 'x');
drawLine(3, 1, lineD_y, lineYTicksD, lineYMax[3], '#ff0000', 'y');
</script>
</body></html>
